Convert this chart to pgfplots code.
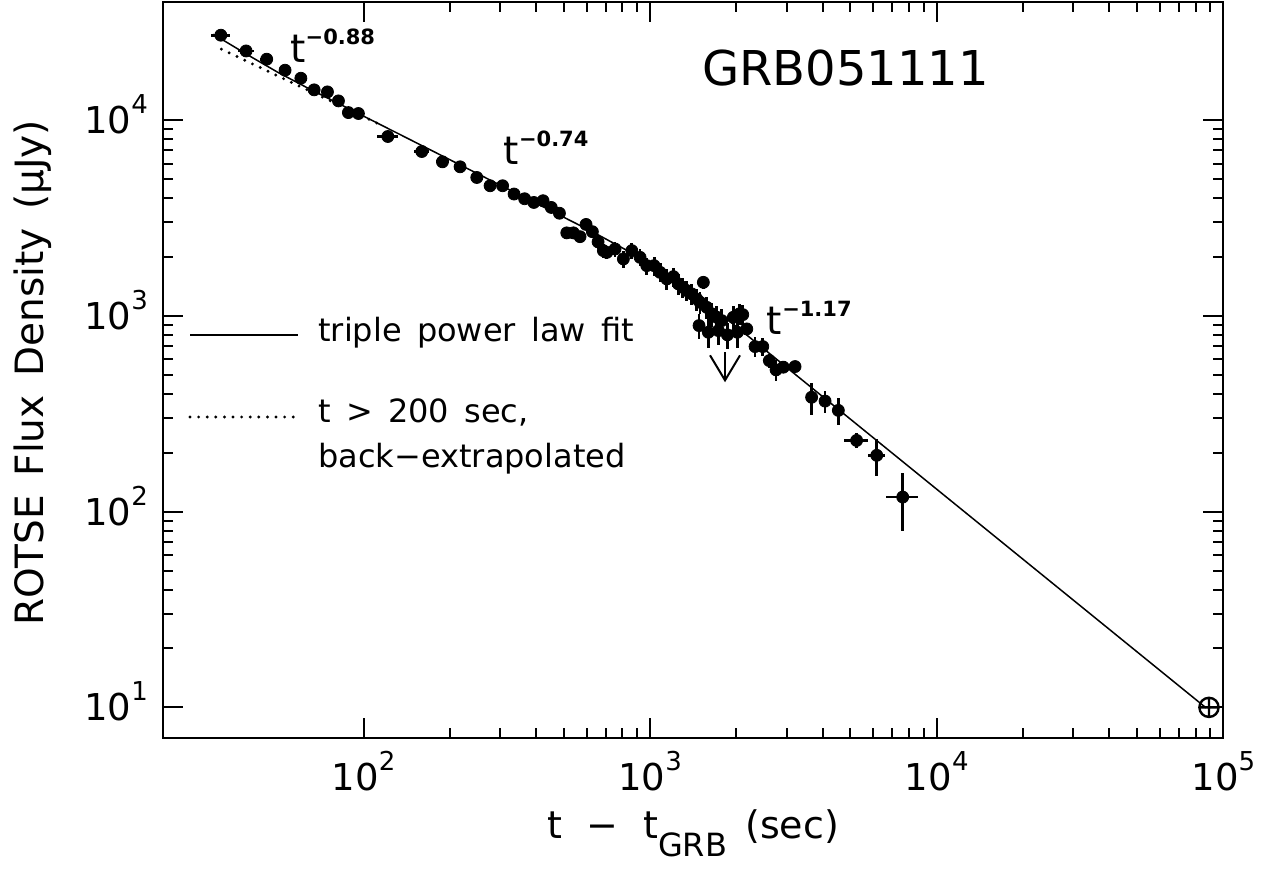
\documentclass[border=0pt]{standalone}
\usepackage{fontspec}
\setmainfont{DejaVu Sans}[WordSpace=1.5]
\usepackage{pgfplots}
\pgfplotsset{compat=1.18}
\usepackage{pgfplotstable}
\usetikzlibrary{arrows.meta}

% tick label: 10 with raised exponent
\newcommand{\tl}[1]{10\raisebox{10pt}{\fontsize{13}{13}\selectfont #1}}
\newcommand{\pl}[2]{t\raisebox{#2}{\fontsize{10.5}{10.5}\selectfont\bfseries #1}}

% t (s), flux (uJy), x error (s), relative y error
\pgfplotstableread{
t f ex ey
31.75 27160 2.5 0
38.9 22570 2.5 0
45.9 20480 2.5 0
53.2 17990 2.5 0
60.4 16370 2.5 0
67.2 14280 2.5 0
74.8 13940 2.5 0
81.7 12540 2.5 0
88.5 10930 2.5 0
95.9 10810 2.5 0
121.5 8250 10 0.02
159.6 6915 10 0.02
188.4 6125 10 0.02
217.1 5777 10 0.02
248.3 5094 0 0.03
276.3 4622 0 0.03
305.5 4622 0 0.03
335.0 4193 0 0.03
364.6 3968 0 0.03
392.6 3798 0 0.03
422.9 3876 0 0.03
451.7 3581 0 0.03
482.3 3346 0 0.04
511.7 2655 0 0.07
539.5 2655 0 0.07
569.2 2539 0 0.07
597.4 2932 0 0.06
628.5 2692 0 0.07
658.0 2388 0 0.08
686.6 2154 0 0.08
705.7 2111 0 0.08
754.3 2197 0 0.09
806.3 1954 0 0.10
862.8 2154 0 0.09
922.1 1991 0 0.10
973.0 1806 0 0.10
1032 1806 0 0.11
1083 1669 0 0.11
1143 1545 0 0.12
1205 1587 0 0.11
1254 1457 0 0.12
1299 1400 0 0.12
1342 1346 0 0.12
1397 1295 0 0.12
1454 1221 0 0.13
1533 1484 0 0.08
1493 1173 0 0.13
1576 1106 0 0.13
1641 1024 0 0.14
1708 984 0 0.14
1777 946 0 0.14
1481 892 0 0.15
1596 825 0 0.17
1730 841 0 0.16
1860 800 0 0.15
1951 984 0 0.14
2015 825 0 0.17
2047 1024 0 0.12
2104 1015 0 0.12
2173 858 0 0.06
2323 697 0 0.12
2471 697 0 0.10
2605 591 0 0.08
2750 530 0 0.12
2916 547 0 0.07
3203 551 160 0.07
3659 384 0 0.185
4077 367 0 0.13
4536 329 0 0.16
5252 231 505 0.09
6175 194 430 0.215
7608 118.7 960 0.33
}\rotse

\begin{document}
\begin{tikzpicture}
\useasboundingbox (-81.65pt,-65.65pt) rectangle (555.85pt,368.85pt);
\begin{axis}[
    xmode=log, ymode=log,
    scale only axis,
    width=530pt, height=367.7pt,
    xmin=20, xmax=1e5,
    ymin=7, ymax=4e4,
    clip=false,
    axis line style={line width=1pt},
    tick style={line width=1pt, black},
    tick align=inside,
    major tick length=10pt,
    minor tick length=5pt,
    xtick={100,1000,10000,100000},
    xticklabels={\tl{2},\tl{3},\tl{4},\tl{5}},
    ytick={10,100,1000,10000},
    yticklabels={\tl{1},\tl{2},\tl{3},\tl{4}},
    tick label style={font=\fontsize{18.5}{18.5}\selectfont},
    xticklabel style={anchor=base, inner sep=0pt, yshift=-26.5pt},
    yticklabel style={anchor=base east, inner sep=0pt, xshift=-7.5pt, yshift=-6.75pt},
    xlabel={t \,−\, t\raisebox{-9pt}{\fontsize{16}{16}\selectfont GRB} (sec)},
    ylabel={ROTSE Flux Density (μJy)},
    xlabel style={at={(axis description cs:0.5,-0.1364)}, anchor=base, font=\fontsize{19}{19}\selectfont},
    ylabel style={at={(axis description cs:-0.1132,0.496)}, anchor=base, font=\fontsize{19.5}{19.5}\selectfont},
]
% triple power law fit
\addplot[black, line width=0.75pt] coordinates {
    (29.9,27470) (39.8,21370) (50.1,17580) (63.1,14720) (95.9,10810)
    (158.5,7457) (316.2,4474) (631,2683) (891,2042) (1122,1679)
    (1413,1303) (1995,884) (87000,9.95)
};
% t > 200 s fit, back-extrapolated
\addplot[black, line width=1.6pt, line cap=round, dash pattern=on 0pt off 4.3pt]
    coordinates {(31.9,23050) (114.8,9462)};
% ROTSE points
\addplot[only marks, mark=*, mark size=3pt, black,
    error bars/.cd, x dir=both, x explicit, y dir=both, y explicit relative,
    error bar style={line width=1.4pt}, error mark=none]
    table[x=t, y=f, x error=ex, y error=ey] {\rotse};
% late point
\addplot[only marks, mark=oplus, mark size=4.8pt, black, mark options={line width=1.2pt}]
    coordinates {(89130,10)};
% upper limit
\addplot[black, line width=1pt, -{Straight Barb[length=12.5pt,width=15pt]}]
    coordinates {(1825,652) (1825,458)};

\node[anchor=base west, inner sep=0pt, font=\fontsize{24}{24}\selectfont]
    at (rel axis cs:0.5079,0.8875) {GRB051111};
\node[anchor=base west, inner sep=0pt, font=\fontsize{19.5}{19.5}\selectfont]
    at (rel axis cs:0.1195,0.9175) {\pl{−0.88}{9pt}};
\node[anchor=base west, inner sep=0pt, font=\fontsize{19.5}{19.5}\selectfont]
    at (rel axis cs:0.3208,0.7788) {\pl{−0.74}{9pt}};
\node[anchor=base west, inner sep=0pt, font=\fontsize{19.5}{19.5}\selectfont]
    at (rel axis cs:0.5691,0.5476) {\pl{−1.17}{9pt}};

% legend
\draw[black, line width=0.75pt] (rel axis cs:0.0252,0.5476) -- (rel axis cs:0.1271,0.5476);
\draw[black, line width=1.6pt, line cap=round, dash pattern=on 0pt off 4.3pt]
    (rel axis cs:0.0252,0.4361) -- (rel axis cs:0.1271,0.4361);
\node[anchor=base west, inner sep=0pt, font=\fontsize{16}{16}\selectfont]
    at (rel axis cs:0.1459,0.5394) {triple power law fit};
\node[anchor=base west, inner sep=0pt, font=\fontsize{16}{16}\selectfont]
    at (rel axis cs:0.1459,0.429) {t > 200 sec,};
\node[anchor=base west, inner sep=0pt, font=\fontsize{16}{16}\selectfont]
    at (rel axis cs:0.1459,0.367) {back−extrapolated};
\end{axis}
\end{tikzpicture}
\end{document}
